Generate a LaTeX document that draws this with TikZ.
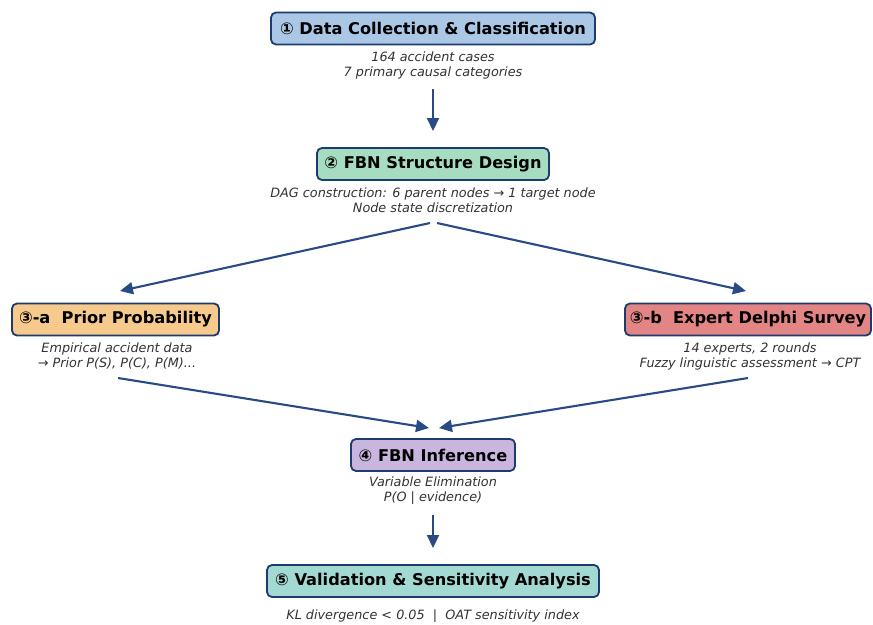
\documentclass[tikz,border=0pt]{standalone}
\usepackage{fontspec}
\setmainfont{DejaVu Sans}
\usetikzlibrary{arrows.meta}
\definecolor{bordc}{HTML}{1D3B6F}
\definecolor{arrc}{HTML}{2A4A86}
\definecolor{subc}{HTML}{333333}
\definecolor{cA}{HTML}{AAC8E6}
\definecolor{cB}{HTML}{A6DCC0}
\definecolor{cC}{HTML}{F6C98C}
\definecolor{cD}{HTML}{E38585}
\definecolor{cE}{HTML}{C9B6DF}
\definecolor{cF}{HTML}{A3D9D3}
\tikzset{
  stagebox/.style={draw=bordc, line width=1.8pt, rounded corners=5pt, minimum height=32pt,
    inner xsep=0pt, inner ysep=0pt, font=\fontsize{16.2}{18}\selectfont\bfseries, text=black},
  subtxt/.style={font=\fontsize{12.8}{15}\selectfont\itshape, text=subc, align=center, inner sep=0pt},
  flow/.style={draw=arrc, line width=2.1pt, -{Triangle[length=13pt,width=12pt]}}
}
\begin{document}
\begin{tikzpicture}[x=1pt,y=-1pt]
\fill[white] (0,0) rectangle (873,624);
\useasboundingbox (0,0) rectangle (873,624);

\node[stagebox, fill=cA, minimum width=324pt] (s1) at (433,28.5) {① Data Collection \& Classification};
\node[subtxt] (t1) at (433,65) {164 accident cases\\7 primary causal categories};

\node[stagebox, fill=cB, minimum width=232pt] (s2) at (433,164) {② FBN Structure Design};
\node[subtxt] (t2) at (433,200) {DAG construction: 6 parent nodes → 1 target node\\Node state discretization};

\node[stagebox, fill=cC, minimum width=207pt] (s3) at (115.5,319.5) {③-a\ \ Prior Probability};
\node[subtxt] (t3) at (117,356) {Empirical accident data\\→ Prior P(S), P(C), P(M)...};

\node[stagebox, fill=cD, minimum width=246pt] (s4) at (748,319.5) {③-b\ \ Expert Delphi Survey};
\node[subtxt] (t4) at (750,356) {14 experts, 2 rounds\\Fuzzy linguistic assessment → CPT};

\node[stagebox, fill=cE, minimum width=164pt] (s5) at (433,455) {④ FBN Inference};
\node[subtxt] (t5) at (433,491) {Variable Elimination\\P(O | evidence)};

\node[stagebox, fill=cF, minimum width=332pt] (s6) at (433,581) {⑤ Validation \& Sensitivity Analysis};
\node[subtxt] (t6) at (433,616.5) {KL divergence < 0.05\ \ |\ \ OAT sensitivity index};

\coordinate (a1s) at (433,89);  \coordinate (a1e) at (433,131);
\coordinate (a2s) at (430,223); \coordinate (a2e) at (120,291);
\coordinate (a3s) at (437,223); \coordinate (a3e) at (746,291);
\coordinate (a4s) at (118,378); \coordinate (a4e) at (429,428);
\coordinate (a5s) at (748,378); \coordinate (a5e) at (439,428);
\coordinate (a6s) at (433,515); \coordinate (a6e) at (433,548);

\draw[flow] (a1s) -- (a1e);
\draw[flow] (a2s) -- (a2e);
\draw[flow] (a3s) -- (a3e);
\draw[flow] (a4s) -- (a4e);
\draw[flow] (a5s) -- (a5e);
\draw[flow] (a6s) -- (a6e);
\end{tikzpicture}
\end{document}
